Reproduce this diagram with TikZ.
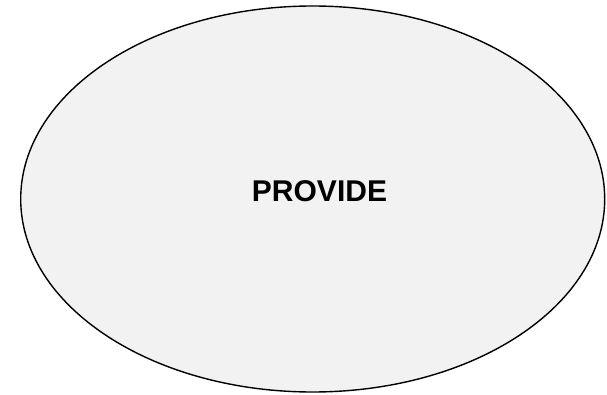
\documentclass[tikz,border=0pt]{standalone}
\usepackage{fontspec}
\setmainfont{Liberation Sans}
\usetikzlibrary{shapes.geometric}
\definecolor{fillgray}{HTML}{F2F2F2}
\tikzset{
  bubble/.style={ellipse, draw=black, line width=1.4pt, fill=fillgray, minimum width=584pt, minimum height=386pt, inner sep=0pt},
  label text/.style={font=\fontsize{30}{36}\selectfont\bfseries, inner sep=0pt, anchor=center}
}
\begin{document}
\begin{tikzpicture}[x=1pt,y=1pt]
\useasboundingbox (0,0) rectangle (607,394);
\node[bubble] (e) at (312.7,195) {};
\node[label text] (t) at (319.5,203) {\vphantom{PROVIDE}PROVIDE};
\end{tikzpicture}
\end{document}
